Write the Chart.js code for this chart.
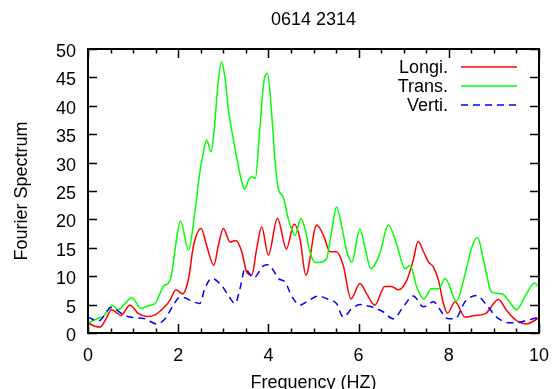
<!DOCTYPE html>
<html>
<head>
<meta charset="utf-8">
<script src="https://cdn.jsdelivr.net/npm/chart.js@4/dist/chart.umd.min.js"></script>
<style>
html,body{margin:0;padding:0;background:#fff;}
#wrap{width:553px;height:389px;position:relative;}
</style>
</head>
<body>
<div id="wrap"><canvas id="c" width="553" height="389"></canvas></div>
<script>
const chartTitle = "0614 2314";
const seriesNames = ["Longi.", "Trans.", "Verti."];
const xTickLabels = [0, 2, 4, 6, 8, 10];

const longiFreq = [0.0,0.15,0.27,0.4,0.52,0.63,0.73,0.93,1.12,1.3,1.49,1.71,1.82,1.95,2.1,2.23,2.34,2.51,2.63,2.79,2.89,3.0,3.15,3.28,3.41,3.52,3.63,3.74,3.85,4.0,4.2,4.4,4.57,4.7,4.83,5.07,5.22,5.37,5.51,5.66,5.83,6.03,6.18,6.36,6.58,6.73,6.88,7.07,7.21,7.32,7.44,7.55,7.66,7.77,7.88,7.97,8.14,8.36,8.58,8.81,9.1,9.28,9.5,9.72,9.9,10.0];
const longiVal  = [1.8,1.2,1.05,2.5,4.1,3.6,3.1,4.9,3.4,2.9,3.2,4.7,5.8,7.6,6.9,9.6,15.4,18.4,15.4,11.9,15.4,18.4,16.0,16.3,14.3,10.7,10.2,14.8,18.7,13.7,20.2,14.8,19.2,16.6,10.2,19.0,17.2,14.3,14.3,11.9,6.0,8.7,6.9,4.9,8.2,8.2,7.6,9.3,12.8,16.1,14.3,12.5,11.6,9.3,5.2,3.5,5.5,2.8,3.1,3.4,5.9,4.0,2.2,1.6,2.2,2.7];

const transFreq = [0.0,0.2,0.35,0.54,0.67,0.8,0.97,1.18,1.34,1.49,1.67,1.82,1.89,1.97,2.05,2.23,2.37,2.48,2.56,2.63,2.73,2.8,2.88,2.96,3.04,3.11,3.22,3.33,3.41,3.47,3.56,3.63,3.71,3.81,3.91,3.98,4.07,4.15,4.22,4.33,4.44,4.51,4.59,4.72,4.81,4.92,5.04,5.18,5.29,5.4,5.51,5.62,5.74,5.85,6.03,6.14,6.27,6.47,6.66,6.84,7.03,7.14,7.29,7.44,7.62,7.77,7.92,8.17,8.36,8.51,8.64,8.77,8.95,9.17,9.32,9.5,9.72,9.9,10.0];
const transVal  = [1.8,2.5,3.0,4.9,4.1,5.0,6.2,4.3,4.8,5.2,8.2,9.3,12.2,16.9,19.7,14.6,21.3,28.3,31.9,34.0,31.9,36.0,43.6,47.7,44.8,39.5,34.2,29.5,26.6,25.3,26.9,27.5,27.2,36.0,44.8,45.7,38.9,30.1,25.4,23.9,20.1,18.4,17.2,20.1,18.4,14.3,12.4,12.5,13.1,17.8,22.2,19.0,14.3,12.5,18.3,15.1,11.3,14.0,19.0,15.7,11.3,11.9,8.1,6.0,7.8,7.8,9.6,5.6,10.4,15.1,16.8,12.8,7.2,6.9,5.8,4.1,6.9,8.8,8.1];

const vertiFreq = [0.0,0.23,0.52,0.75,0.93,1.26,1.52,1.71,1.89,2.04,2.15,2.3,2.48,2.59,2.74,2.96,3.12,3.26,3.37,3.48,3.67,3.89,4.0,4.15,4.22,4.37,4.51,4.7,4.85,5.11,5.33,5.51,5.66,5.85,6.03,6.1,6.33,6.55,6.77,6.99,7.21,7.44,7.66,7.84,7.95,8.14,8.36,8.62,8.84,9.06,9.35,9.57,9.76,10.0];
const vertiVal  = [2.8,2.1,4.5,3.4,2.8,2.5,1.6,2.5,4.9,6.3,6.2,5.6,5.2,7.8,9.6,8.4,6.5,5.2,7.8,11.3,9.7,11.8,12.0,10.5,9.6,9.0,6.6,4.9,5.5,6.5,5.9,5.2,2.8,4.3,5.0,4.9,4.5,3.7,2.5,4.6,6.5,4.6,5.5,3.7,2.6,2.5,5.5,6.6,4.9,2.8,1.8,1.9,2.3,2.8];

const colors = ["#ff0000", "#00ff00", "#0000ff"];
const dashes = [[], [], [7, 5]];
const FONT = "'Liberation Sans', Arial, sans-serif";

function pts(xs, ys) { return xs.map((x, i) => ({x: x, y: ys[i]})); }

const frameAndTicks = {
  id: 'frameAndTicks',
  afterDatasetsDraw(chart) {
    const ctx = chart.ctx, a = chart.chartArea;
    const xs = chart.scales.x, ys = chart.scales.y;
    ctx.save();
    ctx.strokeStyle = '#000';
    ctx.lineWidth = 1.5;
    ctx.beginPath();
    for (let v = 0; v <= 10.0001; v += 0.5) {
      const px = Math.round(xs.getPixelForValue(v)) + 0.5;
      const len = (Math.abs(v / 2 - Math.round(v / 2)) < 1e-6) ? 9 : 4.5;
      ctx.moveTo(px, a.bottom); ctx.lineTo(px, a.bottom - len);
      ctx.moveTo(px, a.top); ctx.lineTo(px, a.top + len);
    }
    for (let v = 0; v <= 50; v += 5) {
      const py = Math.round(ys.getPixelForValue(v)) + 0.5;
      ctx.moveTo(a.left, py); ctx.lineTo(a.left + 9, py);
      ctx.moveTo(a.right, py); ctx.lineTo(a.right - 9, py);
    }
    ctx.stroke();
    ctx.lineWidth = 2;
    ctx.strokeRect(a.left, a.top, a.right - a.left, a.bottom - a.top);
    ctx.fillStyle = '#000';
    ctx.font = '18px ' + FONT;
    ctx.textAlign = 'center';
    ctx.textBaseline = 'middle';
    ctx.fillText(chartTitle, (a.left + a.right) / 2, 20);
    const rows = [67, 86, 105];
    ctx.textAlign = 'right';
    chart.data.datasets.forEach((ds, i) => {
      ctx.fillStyle = '#000';
      ctx.fillText(seriesNames[i], 448, rows[i] + 1);
      ctx.strokeStyle = colors[i];
      ctx.lineWidth = 1.5;
      ctx.setLineDash(dashes[i]);
      ctx.beginPath();
      ctx.moveTo(461, rows[i]); ctx.lineTo(517, rows[i]);
      ctx.stroke();
      ctx.setLineDash([]);
    });
    ctx.restore();
  }
};

const datasets = [
  {label: seriesNames[0], data: pts(longiFreq, longiVal), order: 3},
  {label: seriesNames[1], data: pts(transFreq, transVal), order: 2},
  {label: seriesNames[2], data: pts(vertiFreq, vertiVal), order: 1}
].map((d, i) => Object.assign(d, {
  borderColor: colors[i], backgroundColor: colors[i], borderWidth: 1.5,
  borderDash: dashes[i], pointRadius: 0, fill: false,
  cubicInterpolationMode: 'monotone'
}));

new Chart(document.getElementById('c'), {
  type: 'line',
  data: {datasets: datasets},
  options: {
    responsive: false, animation: false, devicePixelRatio: 1,
    layout: {padding: {top: 49, right: 14, left: 0, bottom: 0}},
    plugins: {legend: {display: false}, title: {display: false}, tooltip: {enabled: false}},
    scales: {
      x: {
        type: 'linear', min: 0, max: 10,
        grid: {display: false, drawTicks: false}, border: {display: false},
        afterFit(s) { s.height = 56; s.paddingLeft = 0; s.paddingRight = 0; },
        afterBuildTicks(s) { s.ticks = xTickLabels.map(v => ({value: v})); },
        ticks: {color: '#000', font: {family: FONT, size: 18}, padding: 12, maxRotation: 0,
                callback: v => String(v)},
        title: {display: true, text: 'Frequency (HZ)', color: '#000',
                font: {family: FONT, size: 18}, padding: {top: 0, bottom: -5}}
      },
      y: {
        min: 0, max: 50,
        grid: {display: false, drawTicks: false}, border: {display: false},
        afterFit(s) { s.width = 88; s.paddingTop = 0; s.paddingBottom = 0; },
        ticks: {stepSize: 5, color: '#000', font: {family: FONT, size: 18}, padding: 12, labelOffset: 3},
        title: {display: true, text: 'Fourier Spectrum', color: '#000',
                font: {family: FONT, size: 18}, padding: {top: 11, bottom: 0}}
      }
    }
  },
  plugins: [frameAndTicks]
});
</script>
</body>
</html>
